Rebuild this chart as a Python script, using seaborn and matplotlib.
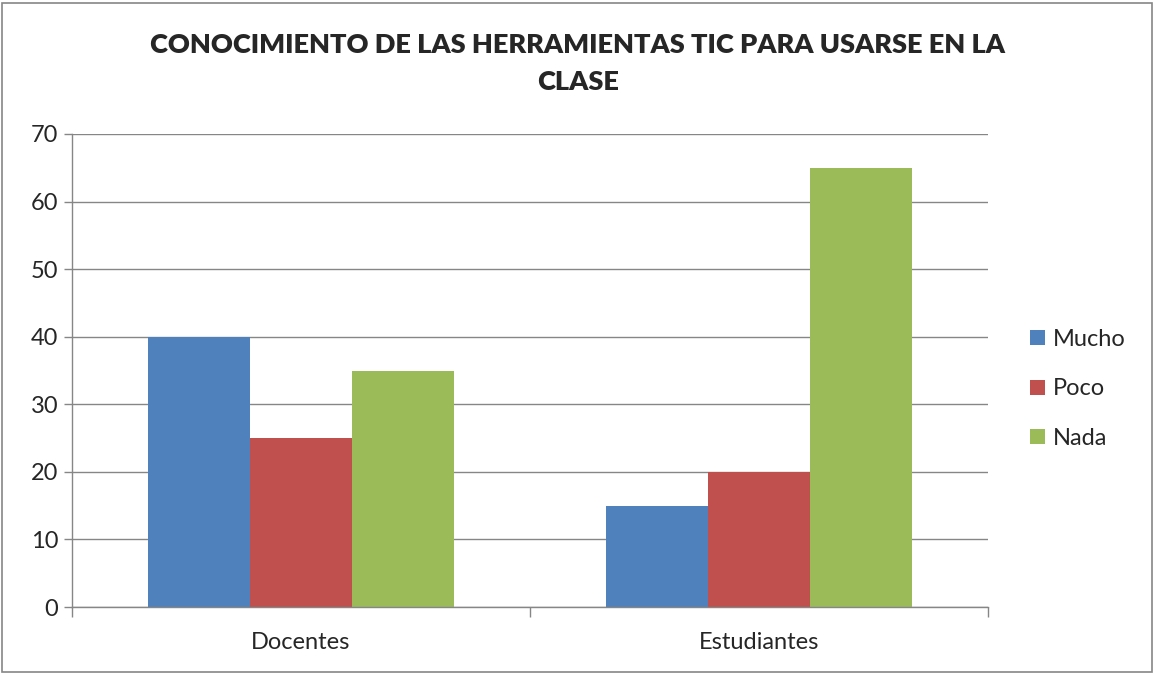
import matplotlib
matplotlib.use("Agg")
import matplotlib.pyplot as plt
import seaborn as sns
import pandas as pd
from matplotlib.patches import Rectangle

# datos
grupos = ["Docentes", "Estudiantes"]
niveles = ["Mucho", "Poco", "Nada"]
mucho = [40, 15]
poco = [25, 20]
nada = [35, 65]
colores = ["#4F81BD", "#C0504D", "#9BBB59"]

filas = []
for nivel, valores in zip(niveles, [mucho, poco, nada]):
    for g, v in zip(grupos, valores):
        filas.append({"grupo": g, "nivel": nivel, "valor": v})
df = pd.DataFrame(filas)

sns.set_theme(style="white")
plt.rcParams['font.family'] = ['Lato', 'DejaVu Sans']

fig = plt.figure(figsize=(11.55, 6.74), dpi=100)
ax = fig.add_axes([72/1155, 1 - 607/674, (988 - 72)/1155, (607 - 134)/674])

sns.barplot(data=df, x="grupo", y="valor", hue="nivel", order=grupos,
            hue_order=niveles, palette=colores, width=0.667, saturation=1,
            edgecolor="none", linewidth=0, ax=ax, legend=True)

ax.set_ylim(0, 70)
ax.set_xlim(-0.5, 1.5)
ax.set_yticks(range(0, 71, 10))
ax.yaxis.grid(True, color="#868686", linewidth=1)
ax.set_axisbelow(True)
ax.set_xlabel("")
ax.set_ylabel("")
for s in ["top", "right"]:
    ax.spines[s].set_visible(False)
for s in ["left", "bottom"]:
    ax.spines[s].set_color("#868686")
    ax.spines[s].set_linewidth(1)

# marcas del eje x en los limites de categoria
ax.set_xticks([-0.5, 0.5, 1.5], minor=False)
ax.set_xticklabels([])
ax.set_xticks([0, 1], minor=True)
ax.set_xticklabels(grupos, minor=True, fontsize=17)
ax.tick_params(axis="x", which="major", length=7, width=1, color="#868686", direction="out", bottom=True)
ax.tick_params(axis="x", which="minor", length=0, pad=18)
ax.tick_params(axis="y", length=6, width=1, color="#868686", direction="out", left=True,
               labelsize=17, pad=4)

leg = ax.legend(loc="center left", frameon=False,
                fontsize=17, handlelength=0.6, handleheight=0.6, handletextpad=0.35,
                labelspacing=1.2, borderaxespad=0)
leg.set_bbox_to_anchor((1021/1155, 1 - 389/674), transform=fig.transFigure)

fig.text(578/1155, 1 - 45/674, "CONOCIMIENTO DE LAS HERRAMIENTAS TIC PARA USARSE EN LA",
         ha="center", va="center", fontsize=19.5, fontweight="heavy")
fig.text(578/1155, 1 - 82/674, "CLASE", ha="center", va="center", fontsize=19.5, fontweight="heavy")

# borde del grafico
fig.patches.append(Rectangle((2/1155, 2/674), 1 - 5/1155, 1 - 5/674, transform=fig.transFigure,
                             fill=False, edgecolor="#868686", linewidth=1.2))

fig.savefig("out.png", dpi=100)
